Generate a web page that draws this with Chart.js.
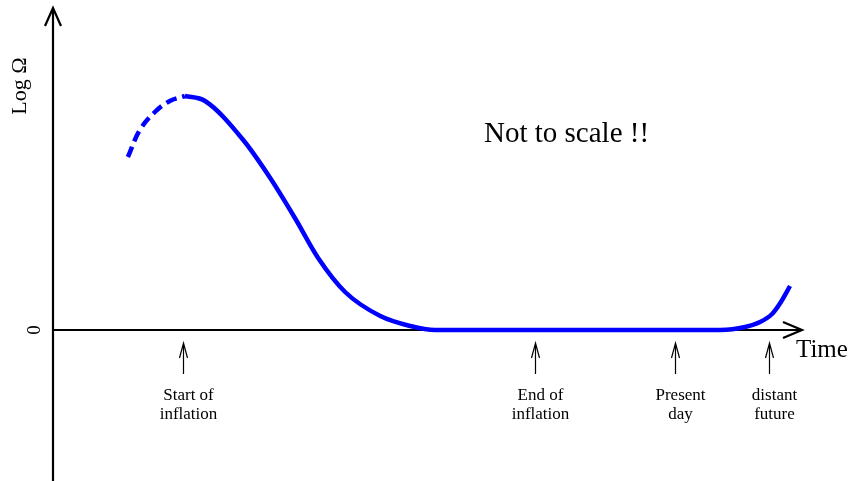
<!DOCTYPE html>
<html><head><meta charset="utf-8">
<script src="https://cdn.jsdelivr.net/npm/chart.js@4.4.0/dist/chart.umd.min.js"></script>
<style>html,body{margin:0;padding:0;background:#fff}#c{display:block}</style>
</head><body>
<canvas id="c" width="848" height="481"></canvas>
<script>
// Time (arbitrary units) and Log Omega (arbitrary units)
const dashedTime  = [10.0, 11.6, 13.6, 15.6, 17.6];
const dashedOmega = [1.73, 2.00, 2.18, 2.29, 2.34];
const solidTime  = [17.6, 20.3, 25.4, 29.0, 32.3, 35.4, 39.0, 43.7, 47.7, 51.0, 55.7, 73.0, 83.7, 89.1, 92.4, 94.4, 96.0, 97.1, 98.4];
const solidOmega = [2.34, 2.29, 1.90, 1.52, 1.12, 0.72, 0.38, 0.14, 0.04, 0.00, 0.00, 0.00, 0.00, 0.00, 0.03, 0.08, 0.16, 0.27, 0.44];
const markerTime   = [17.4, 64.4, 83.1, 95.6];
const markerLabels = [["Start of","inflation"],["End of","inflation"],["Present","day"],["distant","future"]];
const yTickLabel = "0";
const yAxisTitle = "Log \u03A9";
const xAxisTitle = "Time";
const note = "Not to scale !!";

const serif = '"Liberation Serif", "DejaVu Serif", serif';
const pts = (xs, ys) => xs.map((x, i) => ({x, y: ys[i]}));

const drawing = {
  id: 'drawing',
  beforeDatasetsDraw(chart) {
    const {ctx, scales:{x, y}} = chart;
    const x0 = x.getPixelForValue(0), y0 = y.getPixelForValue(0);
    const yTop = y.getPixelForValue(y.max), yBot = y.getPixelForValue(y.min);
    const xEnd = x.getPixelForValue(x.max);
    ctx.save();
    ctx.strokeStyle = '#000'; ctx.lineWidth = 2.2; ctx.lineCap = 'butt';
    ctx.beginPath();
    ctx.moveTo(x0, yBot); ctx.lineTo(x0, yTop);
    ctx.moveTo(x0 - 8, yTop + 18); ctx.lineTo(x0, yTop); ctx.lineTo(x0 + 8, yTop + 18);
    ctx.moveTo(x0, y0); ctx.lineTo(xEnd, y0);
    ctx.moveTo(xEnd - 19, y0 - 8); ctx.lineTo(xEnd, y0); ctx.lineTo(xEnd - 19, y0 + 8);
    ctx.stroke();
    ctx.restore();
  },
  afterDatasetsDraw(chart) {
    const {ctx, scales:{x, y}} = chart;
    const y0 = y.getPixelForValue(0);
    const xEnd = x.getPixelForValue(x.max);
    ctx.save();
    ctx.fillStyle = '#000'; ctx.strokeStyle = '#000';
    // markers
    ctx.lineWidth = 1.2;
    ctx.font = '17px ' + serif;
    ctx.textAlign = 'center'; ctx.textBaseline = 'alphabetic';
    markerTime.forEach((t, i) => {
      const px = Math.round(x.getPixelForValue(t)) + 0.5;
      ctx.beginPath();
      ctx.moveTo(px, y0 + 44); ctx.lineTo(px, y0 + 13);
      ctx.moveTo(px - 4, y0 + 28); ctx.lineTo(px, y0 + 13); ctx.lineTo(px + 4, y0 + 28);
      ctx.stroke();
      ctx.fillText(markerLabels[i][0], px + 5, y0 + 70);
      ctx.fillText(markerLabels[i][1], px + 5, y0 + 89);
    });
    // x axis title
    ctx.font = '25px ' + serif;
    ctx.textAlign = 'left';
    ctx.fillText(xAxisTitle, xEnd - 6, y0 + 27);
    // note
    ctx.font = '29px ' + serif;
    ctx.fillText(note, 484, 142);
    // rotated labels
    ctx.save();
    ctx.translate(40, y0); ctx.rotate(-Math.PI/2);
    ctx.font = '19px ' + serif; ctx.textAlign = 'center';
    ctx.fillText(yTickLabel, 0, 0);
    ctx.restore();
    ctx.save();
    ctx.translate(26, 86); ctx.rotate(-Math.PI/2);
    ctx.font = '22px ' + serif; ctx.textAlign = 'center';
    ctx.fillText(yAxisTitle, 0, 0);
    ctx.restore();
    ctx.restore();
  }
};

new Chart(document.getElementById('c'), {
  type: 'line',
  data: {
    datasets: [
      {data: pts(dashedTime, dashedOmega), borderColor: '#0000ff', borderWidth: 4.5, borderDash: [11, 6], pointRadius: 0, tension: 0.4, fill: false},
      {data: pts(solidTime, solidOmega), borderColor: '#0000ff', borderWidth: 4.5, pointRadius: 0, tension: 0.3, cubicInterpolationMode: 'monotone', fill: false}
    ]
  },
  plugins: [drawing],
  options: {
    responsive: false, animation: false, events: [],
    layout: {padding: {left: 53, right: 46, top: 8, bottom: 0}},
    plugins: {legend: {display: false}, tooltip: {enabled: false}},
    scales: {
      x: {type: 'linear', min: 0, max: 100, display: false},
      y: {type: 'linear', min: -1.51, max: 3.22, display: false}
    }
  }
});
</script>
</body></html>
